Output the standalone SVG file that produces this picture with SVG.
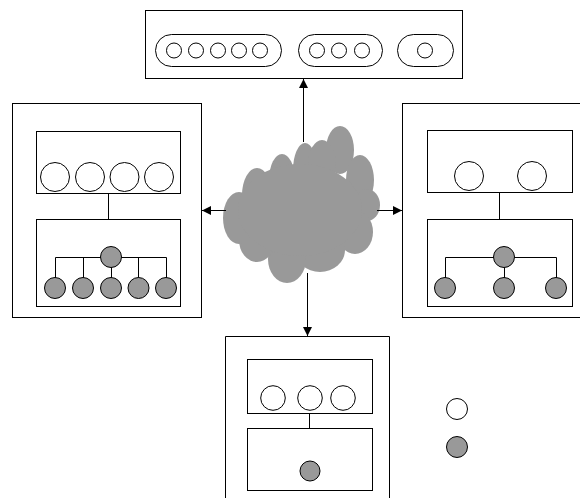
<svg xmlns="http://www.w3.org/2000/svg" width="580" height="498" viewBox="0 0 580 498">
<style>
.box{fill:#fff;stroke:#000;stroke-width:1}
.w{fill:#fff;stroke:#000;stroke-width:1}
.g{fill:#999;stroke:#000;stroke-width:1}
.ln{stroke:#000;stroke-width:1;fill:none}
.cl{fill:#999;stroke:none}
</style>
<defs>
<marker id="ah" viewBox="0 0 10 10" refX="10" refY="5" markerWidth="9" markerHeight="9" markerUnits="userSpaceOnUse" orient="auto">
<path d="M0,0 L10,5 L0,10 Z" fill="#000"/>
</marker>
</defs>
<rect width="580" height="498" fill="#fff"/>

<g id="top-node">
<rect class="box" x="145.5" y="10.5" width="317" height="68"/>
<rect class="w" x="155.5" y="34.5" width="126" height="32" rx="16"/>
<circle class="w" cx="174" cy="50.5" r="7.5"/>
<circle class="w" cx="196" cy="50.5" r="7.5"/>
<circle class="w" cx="218" cy="50.5" r="7.5"/>
<circle class="w" cx="239" cy="50.5" r="7.5"/>
<circle class="w" cx="260" cy="50.5" r="7.5"/>
<rect class="w" x="298.5" y="34.5" width="84" height="32" rx="16"/>
<circle class="w" cx="317" cy="50.5" r="7.5"/>
<circle class="w" cx="339" cy="50.5" r="7.5"/>
<circle class="w" cx="362" cy="50.5" r="7.5"/>
<rect class="w" x="397.5" y="34.5" width="56" height="32" rx="16"/>
<circle class="w" cx="425" cy="50.5" r="7.5"/>
</g>

<g id="left-node">
<rect class="box" x="12.5" y="103.5" width="189" height="214"/>
<rect class="box" x="36.5" y="131.5" width="144" height="62"/>
<circle class="w" cx="55" cy="177" r="14.5"/>
<circle class="w" cx="90" cy="177" r="14.5"/>
<circle class="w" cx="124.5" cy="177" r="14.5"/>
<circle class="w" cx="159" cy="177" r="14.5"/>
<line class="ln" x1="108.5" y1="193.5" x2="108.5" y2="219.5"/>
<rect class="box" x="36.5" y="219.5" width="144" height="87"/>
<path class="ln" d="M55.5,288 V257.5 H166.5 V288 M83.5,257.5 V288 M111.5,257.5 V288 M138.5,257.5 V288"/>
<circle class="g" cx="111" cy="257" r="10.5"/>
<circle class="g" cx="55" cy="288" r="10.5"/>
<circle class="g" cx="83" cy="288" r="10.5"/>
<circle class="g" cx="111" cy="288" r="10.5"/>
<circle class="g" cx="138.5" cy="288" r="10.5"/>
<circle class="g" cx="166" cy="288" r="10.5"/>
</g>

<g id="right-node">
<rect class="box" x="402.5" y="103.5" width="200" height="214"/>
<rect class="box" x="427.5" y="130.5" width="145" height="62"/>
<circle class="w" cx="469" cy="176" r="14.5"/>
<circle class="w" cx="532" cy="176" r="14.5"/>
<line class="ln" x1="499.5" y1="192.5" x2="499.5" y2="219.5"/>
<rect class="box" x="427.5" y="219.5" width="145" height="87"/>
<path class="ln" d="M445.5,288 V257.5 H556.5 V288 M504.5,257.5 V288"/>
<circle class="g" cx="504" cy="257" r="10.5"/>
<circle class="g" cx="445" cy="288" r="10.5"/>
<circle class="g" cx="504" cy="288" r="10.5"/>
<circle class="g" cx="556" cy="288" r="10.5"/>
</g>

<g id="bottom-node">
<path class="box" d="M225.5,500 V336.5 H389.5 V500"/>
<rect class="box" x="247.5" y="359.5" width="125" height="54"/>
<circle class="w" cx="273" cy="398" r="12.3"/>
<circle class="w" cx="310" cy="398" r="12.3"/>
<circle class="w" cx="343" cy="398" r="12.3"/>
<line class="ln" x1="309.5" y1="413.5" x2="309.5" y2="428.5"/>
<rect class="box" x="247.5" y="428.5" width="125" height="62"/>
<circle class="g" cx="310" cy="471" r="10"/>
</g>

<g id="legend">
<circle class="w" cx="457" cy="409" r="10.5"/>
<circle class="g" cx="457" cy="447" r="10.5"/>
</g>

<g id="cloud">
<ellipse class="cl" cx="340" cy="150" rx="14" ry="24"/>
<ellipse class="cl" cx="360" cy="180" rx="14" ry="25"/>
<ellipse class="cl" cx="367" cy="205" rx="13" ry="16"/>
<ellipse class="cl" cx="355" cy="232" rx="18" ry="22"/>
<ellipse class="cl" cx="320" cy="250" rx="25" ry="22"/>
<ellipse class="cl" cx="287" cy="259" rx="19" ry="24"/>
<ellipse class="cl" cx="257" cy="240" rx="18" ry="22"/>
<ellipse class="cl" cx="239" cy="218" rx="16" ry="26"/>
<ellipse class="cl" cx="257" cy="195" rx="15" ry="27"/>
<ellipse class="cl" cx="282" cy="180" rx="13" ry="26"/>
<ellipse class="cl" cx="305" cy="170" rx="12" ry="27"/>
<ellipse class="cl" cx="322" cy="165" rx="14" ry="25"/>
<ellipse class="cl" cx="300" cy="210" rx="62" ry="46"/>
</g>

<g id="connectors">
<line class="ln" x1="303.5" y1="142" x2="303.5" y2="79" marker-end="url(#ah)"/>
<line class="ln" x1="226" y1="210.5" x2="202" y2="210.5" marker-end="url(#ah)"/>
<line class="ln" x1="377" y1="210.5" x2="402" y2="210.5" marker-end="url(#ah)"/>
<line class="ln" x1="307.5" y1="273" x2="307.5" y2="336" marker-end="url(#ah)"/>
</g>
</svg>
